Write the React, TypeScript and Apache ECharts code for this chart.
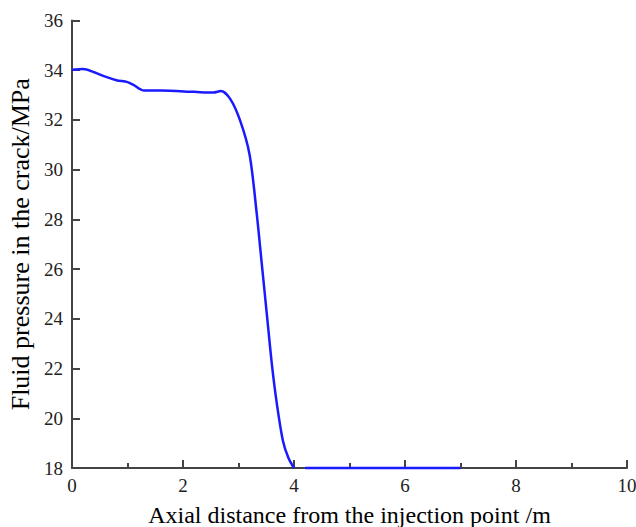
import React, { useEffect, useRef } from "react";
import * as echarts from "echarts";

const distances = [0, 0.2, 0.4, 0.6, 0.8, 1.0, 1.1, 1.3, 1.6, 2.2, 2.55, 2.68, 2.85, 3.03, 3.2, 3.33, 3.42, 3.51, 3.6, 3.69, 3.8, 3.9, 4.0];
const pressures = [34.02, 34.05, 33.92, 33.74, 33.6, 33.52, 33.42, 33.18, 33.18, 33.13, 33.1, 33.16, 32.85, 31.97, 30.6, 28.2, 26.2, 24.2, 22.2, 20.6, 19.1, 18.4, 18.0];
const baseDistances = [4.2, 7.0];
const basePressures = [18, 18];

const font = "Liberation Serif";

export default function App() {
  const ref = useRef<HTMLDivElement>(null);
  useEffect(() => {
    const chart = echarts.init(ref.current!, null, { renderer: "svg" });
    const axisLine = { show: true, lineStyle: { color: "#444", width: 2 } };
    chart.setOption({
      animation: false,
      grid: { left: 72, right: 9, top: 20.5, bottom: 59, containLabel: false, outerBoundsMode: "none" },
      xAxis: {
        type: "value",
        min: 0,
        max: 10,
        interval: 2,
        name: "Axial distance from the injection point /m",
        nameLocation: "middle",
        nameGap: 35,
        nameTextStyle: { fontFamily: font, fontSize: 24, color: "#000" },
        axisLine,
        axisTick: { show: true, inside: true, length: 8, lineStyle: { color: "#444", width: 2 } },
        minorTick: { show: true, splitNumber: 2, length: 5, lineStyle: { color: "#444", width: 2 } },
        axisLabel: { fontFamily: font, fontSize: 19, color: "#222", margin: 8 },
        splitLine: { show: false },
        minorSplitLine: { show: false },
      },
      yAxis: {
        type: "value",
        min: 18,
        max: 36,
        interval: 2,
        name: "Fluid pressure in the crack/MPa",
        nameLocation: "middle",
        nameGap: 37,
        nameTextStyle: { fontFamily: font, fontSize: 26, color: "#000" },
        axisLine,
        axisTick: { show: true, inside: true, length: 8, lineStyle: { color: "#444", width: 2 } },
        axisLabel: { fontFamily: font, fontSize: 19, color: "#222", margin: 9 },
        splitLine: { show: false },
      },
      series: [
        {
          type: "line",
          data: distances.map((d, i) => [d, pressures[i]]),
          smooth: 0.3,
          showSymbol: false,
          lineStyle: { color: "#1a1aff", width: 2.5 },
          clip: false,
        },
        {
          type: "line",
          data: baseDistances.map((d, i) => [d, basePressures[i]]),
          showSymbol: false,
          lineStyle: { color: "#1a1aff", width: 2.5 },
          clip: false,
        },
      ],
    });
    return () => chart.dispose();
  }, []);
  return (
    <div
      ref={ref}
      style={{ position: "absolute", left: 0, top: 0, width: 636, height: 527 }}
    />
  );
}
